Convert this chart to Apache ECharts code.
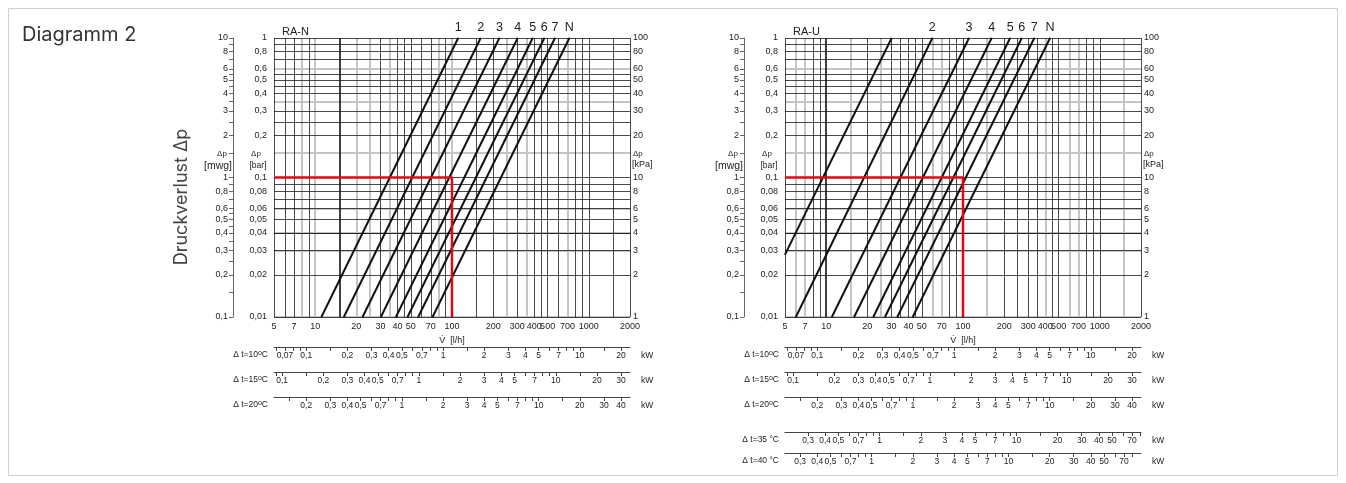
<!DOCTYPE html>
<html>
<head>
<meta charset="utf-8">
<title>Diagramm 2</title>
<script src="https://cdn.jsdelivr.net/npm/echarts@6/dist/echarts.min.js"></script>
<style>
  html, body { margin: 0; padding: 0; background: #fff; }
  #chart { width: 1346px; height: 483px; }
</style>
</head>
<body>
<div id="chart"></div>
<script>
// axis labels
const flowLabels = [5, 7, 10, 20, 30, 40, 50, 70, 100, 200, 300, 400, 500, 700, 1000, 2000];
const barLabels = [1, 0.8, 0.6, 0.5, 0.4, 0.3, 0.2, 0.1, 0.08, 0.06, 0.05, 0.04, 0.03, 0.02, 0.01];
const mwgLabels = [10, 8, 6, 5, 4, 3, 2, 1, 0.8, 0.6, 0.5, 0.4, 0.3, 0.2, 0.1];
const kpaLabels = [100, 80, 60, 50, 40, 30, 20, 10, 8, 6, 5, 4, 3, 2, 1];

// grid lines of the log paper
const flowGrid = [5, 6, 7, 8, 9, 10, 15, 20, 25, 30, 35, 40, 45, 50, 60, 70, 80, 90, 100,
  150, 200, 250, 300, 350, 400, 450, 500, 600, 700, 800, 900, 1000, 1500, 2000];
const dpGrid = [1, 0.9, 0.8, 0.7, 0.6, 0.55, 0.5, 0.45, 0.4, 0.35, 0.3, 0.25, 0.2, 0.15,
  0.1, 0.09, 0.08, 0.07, 0.06, 0.055, 0.05, 0.045, 0.04, 0.035, 0.03, 0.025, 0.02, 0.015, 0.01];
const grayFlowN = [8, 10, 20, 25, 35, 80, 100, 250, 350, 700];
const grayDpN = [0.6, 0.35, 0.15, 0.06, 0.035, 0.025, 0.015];
const grayFlowU = [6, 7, 15, 25, 60, 70, 150, 400, 600, 700, 1500];
const grayDpU = [0.6, 0.35, 0.15, 0.06, 0.045, 0.025, 0.015];

// RA-N presets: flow [l/h] at the lower and upper end of each line
const raNNames = ['1', '2', '3', '4', '5', '6', '7', 'N'];
const raNFlowLow = [11.1, 16.2, 22.2, 30.2, 38.9, 47.3, 56.6, 72.1];
const raNDpLow = [0.01, 0.01, 0.01, 0.01, 0.01, 0.01, 0.01, 0.01];
const raNFlowHigh = [111, 162, 222, 302, 389, 473, 566, 721];

// RA-U presets
const raUNames = ['', '2', '3', '4', '5', '6', '7', 'N'];
const raUFlowLow = [5, 6.0, 11.0, 16.0, 22.1, 26.9, 33.1, 42.9];
const raUDpLow = [0.028, 0.01, 0.01, 0.01, 0.01, 0.01, 0.01, 0.01];
const raUFlowHigh = [30.1, 59.7, 110.7, 162, 221, 269, 332, 433];

// red reading example
const readFlow = [5, 100, 100];
const readDp = [0.1, 0.1, 0.01];

// heat output scales (kW) for the temperature differences
const heatFactor = 1.163;
const dtRowsN = [10, 15, 20];
const dtRowsU = [10, 15, 20, 35, 40];
const kw10Labels = [0.07, 0.1, 0.2, 0.3, 0.4, 0.5, 0.7, 1, 2, 3, 4, 5, 7, 10, 20];
const kw15Labels = [0.1, 0.2, 0.3, 0.4, 0.5, 0.7, 1, 2, 3, 4, 5, 7, 10, 20, 30];
const kw20Labels = [0.2, 0.3, 0.4, 0.5, 0.7, 1, 2, 3, 4, 5, 7, 10, 20, 30, 40];
const kw35Labels = [0.3, 0.4, 0.5, 0.7, 1, 2, 3, 4, 5, 7, 10, 20, 30, 40, 50, 70];
const kw40Labels = [0.3, 0.4, 0.5, 0.7, 1, 2, 3, 4, 5, 7, 10, 20, 30, 40, 50, 70];
const kwTicks = [0.06, 0.07, 0.08, 0.09, 0.1, 0.15, 0.2, 0.3, 0.4, 0.5, 0.6, 0.7, 0.8, 0.9,
  1, 1.5, 2, 3, 4, 5, 6, 7, 8, 9, 10, 15, 20, 30, 40, 50, 60, 70, 80];
const kwLabelsByDt = { 10: kw10Labels, 15: kw15Labels, 20: kw20Labels, 35: kw35Labels, 40: kw40Labels };

// layout
const plotTop = 38;
const plotWidth = 356;
const plotHeight = 279;
const plotBottom = plotTop + plotHeight;
const rowOffsets = { 10: 30, 15: 55, 20: 80, 35: 115, 40: 136 };
const font = '"Liberation Sans", Arial, sans-serif';
const ink = '#222';

const comma = (v) => String(v).replace('.', ',');

const option = {
  animation: false,
  backgroundColor: '#fff',
  grid: [],
  xAxis: [],
  yAxis: [],
  series: [],
  graphic: [
    { type: 'rect', shape: { x: 8.5, y: 8.5, width: 1329, height: 467 },
      style: { fill: 'none', stroke: '#d0d0d0', lineWidth: 1 }, silent: true },
    { type: 'text', x: 22, y: 35,
      style: { text: 'Diagramm 2', fontSize: 20, fontFamily: 'Inter, sans-serif', fill: '#333', verticalAlign: 'middle' } },
    { type: 'text', x: 182, y: 197, rotation: Math.PI / 2,
      style: { text: 'Druckverlust Δp', fontSize: 18, fontFamily: 'Inter, sans-serif', fill: '#444', align: 'center', verticalAlign: 'middle' } },
  ],
};

function smallText(x, y, text, size, align) {
  option.graphic.push({
    type: 'text', x, y, silent: true,
    style: { text, fontSize: size, fontFamily: font, fill: ink, align: align || 'center', verticalAlign: 'middle' },
  });
}

function addPanel(p) {
  const gi = option.grid.length;
  option.grid.push({ left: p.left, top: plotTop, width: plotWidth, height: plotHeight, outerBoundsMode: 'none' });

  const xi = option.xAxis.length;
  option.xAxis.push({
    type: 'log', gridIndex: gi, position: 'bottom', min: 5, max: 2000,
    axisLine: { show: false }, axisTick: { show: false }, splitLine: { show: false },
    axisLabel: { customValues: flowLabels, fontSize: 9, color: ink, fontFamily: font, margin: 5, formatter: comma },
    name: 'V̇  [l/h]', nameLocation: 'middle', nameGap: 17,
    nameTextStyle: { fontSize: 9, color: ink, fontFamily: font },
  });

  p.rows.forEach((dt) => {
    const deg = dt >= 30 ? '{t| °C}' : '{d|o}{t|C}';
    option.xAxis.push({
      type: 'log', gridIndex: gi, position: 'bottom', offset: rowOffsets[dt],
      min: 5 * heatFactor * dt / 1000, max: 2000 * heatFactor * dt / 1000,
      axisLine: { show: true, lineStyle: { color: '#444', width: 1 } },
      axisTick: { show: true, customValues: kwTicks, length: 4, lineStyle: { color: '#444', width: 1 } },
      axisLabel: { customValues: kwLabelsByDt[dt], fontSize: 8.5, color: ink, fontFamily: font, margin: 4, formatter: comma },
      splitLine: { show: false },
      name: '{t|Δ t=' + dt + '}' + deg, nameLocation: 'start', nameGap: 6,
      nameTextStyle: {
        align: 'right', verticalAlign: 'top', padding: [3, 0, 0, 0],
        rich: {
          t: { fontSize: 8.5, color: ink, fontFamily: font },
          d: { fontSize: 7, color: ink, fontFamily: font, verticalAlign: 'top' },
        },
      },
    });
    smallText(p.left + plotWidth + 11, plotBottom + rowOffsets[dt] + 8.5, 'kW', 8.5, 'left');
  });

  const yi = option.yAxis.length;
  option.yAxis.push({
    type: 'log', gridIndex: gi, position: 'left', min: 0.01, max: 1,
    axisLine: { show: false }, axisTick: { show: false }, splitLine: { show: false },
    axisLabel: { customValues: barLabels, fontSize: 9, color: ink, fontFamily: font, margin: 7, formatter: comma },
  });
  option.yAxis.push({
    type: 'log', gridIndex: gi, position: 'left', offset: 41, min: 0.1, max: 10,
    axisLine: { show: true, lineStyle: { color: '#666', width: 1 } },
    axisTick: { show: true, customValues: dpGrid.map((v) => +(v * 10).toFixed(4)), length: 4, lineStyle: { color: '#666' } },
    splitLine: { show: false },
    axisLabel: { customValues: mwgLabels, fontSize: 9, color: ink, fontFamily: font, margin: 5, formatter: comma },
  });
  option.yAxis.push({
    type: 'log', gridIndex: gi, position: 'right', min: 1, max: 100,
    axisLine: { show: false }, axisTick: { show: false }, splitLine: { show: false },
    axisLabel: { customValues: kpaLabels, fontSize: 9, color: ink, fontFamily: font, margin: 3, formatter: comma },
  });

  // paper grid
  const grayStyle = { color: '#c4c4c4', width: 2, type: 'solid' };
  const blackStyle = { color: '#1c1c1c', width: 0.8, type: 'solid' };
  const marker = (lines, z) => ({
    type: 'line', xAxisIndex: xi, yAxisIndex: yi, data: [], silent: true, z,
    markLine: { silent: true, symbol: ['none', 'none'], label: { show: false }, animation: false, data: lines },
  });
  option.series.push(marker(
    p.grayFlow.map((v) => ({ xAxis: v, lineStyle: grayStyle }))
      .concat(p.grayDp.map((v) => ({ yAxis: v, lineStyle: grayStyle }))), 1));
  option.series.push(marker(
    flowGrid.filter((v) => !p.grayFlow.includes(v))
      .map((v) => ({ xAxis: v, lineStyle: v === p.boldFlow ? { color: '#111', width: 1.6, type: 'solid' } : blackStyle }))
      .concat(dpGrid.filter((v) => !p.grayDp.includes(v)).map((v) => ({ yAxis: v, lineStyle: blackStyle }))), 2));

  // preset curves
  p.names.forEach((name, i) => {
    option.series.push({
      type: 'line', xAxisIndex: xi, yAxisIndex: yi, z: 5,
      symbol: 'circle', symbolSize: 1, showSymbol: true,
      lineStyle: { color: '#111', width: 2 }, itemStyle: { color: '#111' },
      label: { show: false },
      data: [
        [p.flowLow[i], p.dpLow[i]],
        { value: [p.flowHigh[i], 1],
          label: { show: name !== '', position: 'top', distance: 3, formatter: name, fontSize: 12.5, color: ink, fontFamily: font } },
      ],
    });
  });

  option.series.push({
    type: 'line', xAxisIndex: xi, yAxisIndex: yi, z: 6, symbol: 'none',
    lineStyle: { color: '#e30613', width: 2.5 },
    data: readFlow.map((v, i) => [v, readDp[i]]),
  });

  // axis captions
  const l = p.left;
  smallText(l + 8, 31.5, p.title, 11, 'left');
  smallText(l - 52, 154, 'Δp', 8);
  smallText(l - 56, 166, '[mwg]', 10.5);
  smallText(l - 18, 154, 'Δp', 8);
  smallText(l - 16, 166, '[bar]', 8.5);
  smallText(l + plotWidth + 3, 154, 'Δp', 8, 'left');
  smallText(l + plotWidth + 2, 165, '[kPa]', 9, 'left');
}

addPanel({ left: 274, title: 'RA-N', names: raNNames, flowLow: raNFlowLow, dpLow: raNDpLow, flowHigh: raNFlowHigh,
  rows: dtRowsN, grayFlow: grayFlowN, grayDp: grayDpN, boldFlow: 15 });
addPanel({ left: 785, title: 'RA-U', names: raUNames, flowLow: raUFlowLow, dpLow: raUDpLow, flowHigh: raUFlowHigh,
  rows: dtRowsU, grayFlow: grayFlowU, grayDp: grayDpU, boldFlow: 10 });

const chart = echarts.init(document.getElementById('chart'), null, { renderer: 'canvas' });
chart.setOption(option);
</script>
</body>
</html>
